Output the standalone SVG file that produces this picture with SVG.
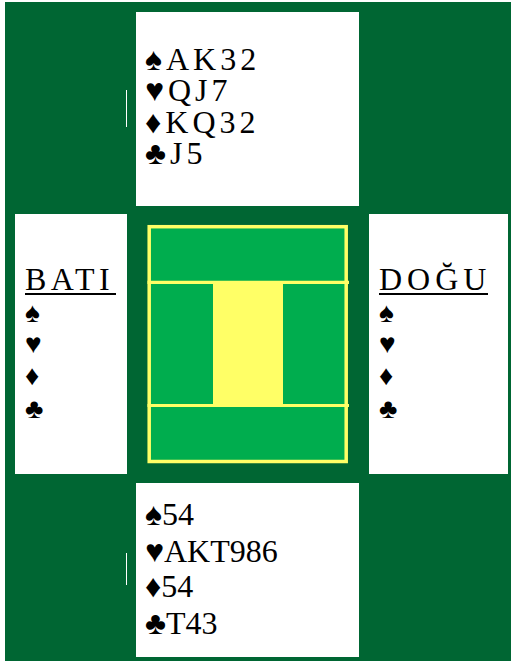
<svg xmlns="http://www.w3.org/2000/svg" width="511" height="661" viewBox="0 0 511 661">
<style>
.card{fill:#ffffff}
.t{font-family:"Liberation Serif","Times New Roman","DejaVu Serif",serif;font-size:32px;fill:#000000}
.ls{letter-spacing:4px}
.s{font-family:"Liberation Serif","DejaVu Serif",serif;font-size:28px;fill:#000000}
.court{fill:#00AD4E;stroke:#FFFF66;stroke-width:3.5}
.cl{stroke:#FFFF66;stroke-width:3.2}
</style>
<rect x="0" y="0" width="511" height="661" fill="#ffffff"/>
<rect x="5" y="2" width="506" height="659" fill="#006633"/>
<g id="north">
<rect class="card" x="136" y="12" width="223" height="194"/>
<text class="t ls" x="145" y="70">♠AK32</text>
<text class="t ls" x="145" y="101">♥QJ7</text>
<text class="t ls" x="145" y="132.5">♦KQ32</text>
<text class="t ls" x="145" y="163.5">♣J5</text>
</g>
<g id="west">
<rect class="card" x="15" y="214" width="112" height="260"/>
<text class="t" x="25" y="290" style="letter-spacing:4.5px">BATI</text>
<rect x="25" y="293" width="91" height="2" fill="#000"/>
<text class="s" x="25" y="322">♠</text>
<text class="s" x="25" y="353">♥</text>
<text class="s" x="25" y="385">♦</text>
<text class="s" x="25" y="418">♣</text>
</g>
<g id="east">
<rect class="card" x="369" y="214" width="139" height="260"/>
<text class="t" x="379" y="290" style="letter-spacing:5px">DOĞU</text>
<rect x="379" y="293" width="109" height="2" fill="#000"/>
<text class="s" x="379" y="322">♠</text>
<text class="s" x="379" y="353">♥</text>
<text class="s" x="379" y="385">♦</text>
<text class="s" x="379" y="418">♣</text>
</g>
<g id="south">
<rect class="card" x="136" y="483" width="223" height="174"/>
<text class="t" x="145" y="525">♠54</text>
<text class="t" x="145" y="561.5">♥AKT986</text>
<text class="t" x="145" y="597">♦54</text>
<text class="t" x="145" y="633.5">♣T43</text>
</g>
<g id="table">
<rect class="court" x="149.2" y="226.7" width="197" height="234.8"/>
<rect x="213" y="283" width="70" height="122" fill="#FFFF66"/>
<line class="cl" x1="147.5" y1="282.4" x2="349" y2="282.4"/>
<line class="cl" x1="147.5" y1="405.5" x2="349" y2="405.5"/>
</g>
<g id="marks" stroke="#ffffff" stroke-width="1">
<line x1="126.5" y1="90" x2="126.5" y2="127"/>
<line x1="126.5" y1="553" x2="126.5" y2="585"/>
</g>
</svg>
